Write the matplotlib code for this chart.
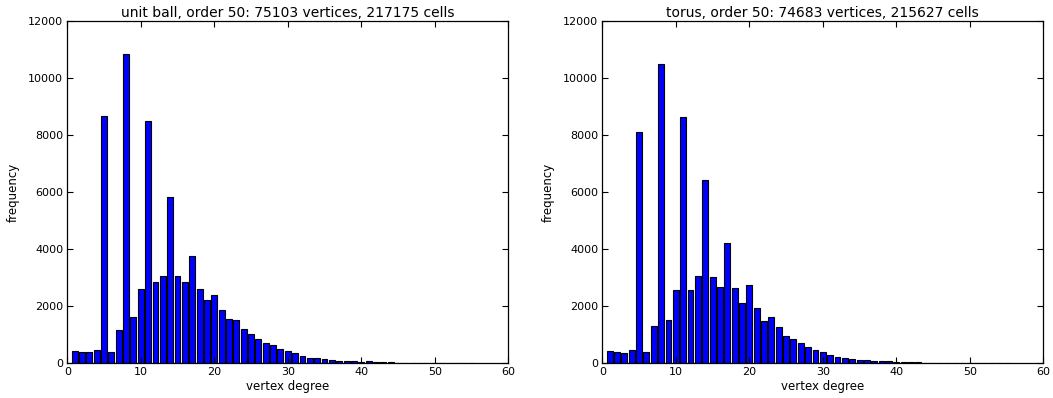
import numpy as np
import matplotlib
matplotlib.use("Agg")
import matplotlib.pyplot as plt

degrees = np.arange(1, 56)

# unit ball vertex-degree counts, degrees 1..55
ball_counts = [410, 385, 385, 455, 8667, 385, 1150, 10830, 1630, 2585,
               8491, 2842, 3041, 5825, 3064, 2842, 3754, 2596, 2210, 2398,
               1848, 1532, 1509, 1181, 1018, 830, 702, 632, 480, 421,
               365, 260, 165, 190, 129, 105, 82, 82, 58, 47,
               70, 35, 25, 20, 15, 12, 10, 8, 6, 5,
               4, 3, 0, 0, 3]

# torus vertex-degree counts, degrees 1..55
torus_counts = [421, 374, 363, 456, 8094, 386, 1310, 10480, 1509, 2550,
                8643, 2550, 3053, 6409, 3006, 2667, 4199, 2620, 2094, 2725,
                1918, 1474, 1602, 1251, 959, 842, 702, 550, 440, 374,
                265, 205, 185, 140, 117, 105, 82, 58, 58, 47,
                35, 25, 18, 12, 8, 5, 0, 3, 0, 2,
                0, 0, 0, 0, 0]

titles = ["unit ball, order 50: 75103 vertices, 217175 cells",
          "torus, order 50: 74683 vertices, 215627 cells"]

plt.rcParams['font.family'] = ['DejaVu Sans']

fig = plt.figure(figsize=(10.53, 3.98), dpi=100)
ax1 = fig.add_axes([0.0639, 0.088, 0.4188, 0.859])
ax2 = fig.add_axes([0.572, 0.088, 0.4188, 0.859])

for ax, counts, title in zip([ax1, ax2], [ball_counts, torus_counts], titles):
    ax.bar(degrees, counts, width=0.8, align='center', color='#0000ff',
           edgecolor='black', linewidth=0.8)
    ax.set_xlim(0, 60)
    ax.set_ylim(0, 12000)
    ax.set_xticks(np.arange(0, 61, 10))
    ax.set_yticks(np.arange(0, 12001, 2000))
    ax.tick_params(direction='in', top=True, right=True, length=4,
                   labelsize=8, width=0.8, pad=3)
    for s in ax.spines.values():
        s.set_linewidth(0.9)
    ax.set_xlabel("vertex degree", fontsize=8.5, labelpad=2)
    ax.set_ylabel("frequency", fontsize=8.5, labelpad=6)
    ax.set_title(title, fontsize=10, pad=3)

fig.savefig("out.png", dpi=100)
